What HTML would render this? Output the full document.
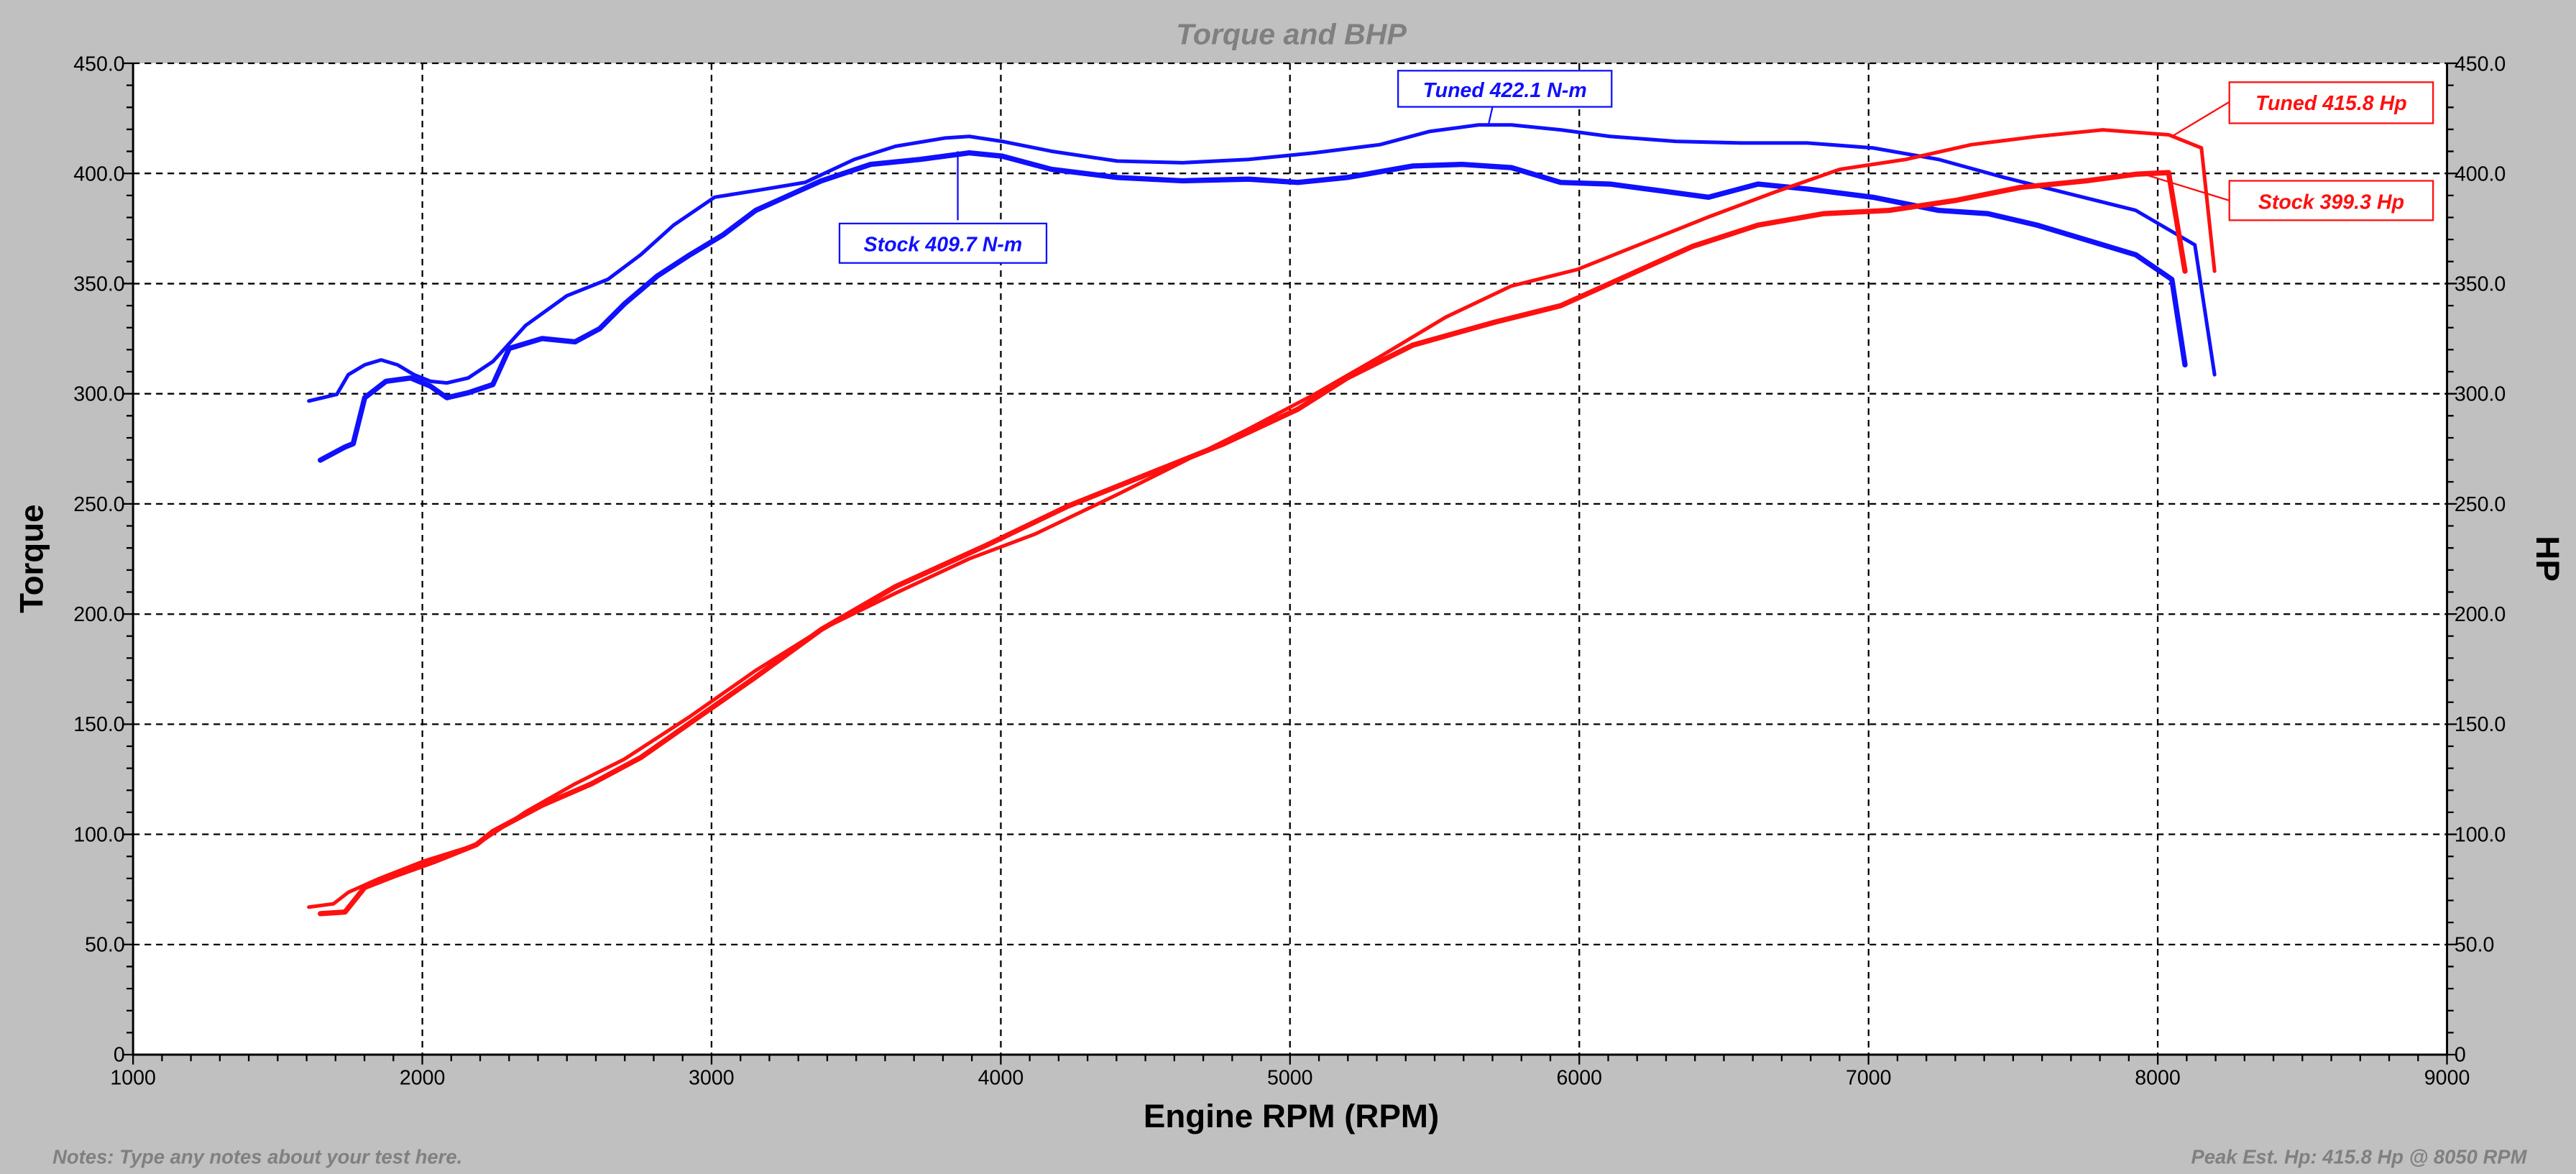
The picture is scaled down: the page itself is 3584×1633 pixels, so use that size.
<!DOCTYPE html>
<html><head><style>html,body{margin:0;padding:0;background:#c0c0c0}svg{display:block}</style></head><body>
<svg width="3584" height="1633" viewBox="0 0 1568 714.4" xmlns="http://www.w3.org/2000/svg" font-family="Liberation Sans, Arial, sans-serif">
<rect width="1568" height="714.4" fill="#c0c0c0"/>
<rect x="81" y="38.5" width="1408.5" height="603.3" fill="#fff"/>
<g stroke="#000" stroke-width="1" stroke-dasharray="4,3" fill="none">
<path d="M81 38.5H1489.5M81 105.5H1489.5M81 172.6H1489.5M81 239.6H1489.5M81 306.6H1489.5M81 373.7H1489.5M81 440.7H1489.5M81 507.7H1489.5M81 574.8H1489.5"/>
<path d="M257.1 38.5V641.8M433.1 38.5V641.8M609.2 38.5V641.8M785.2 38.5V641.8M961.3 38.5V641.8M1137.4 38.5V641.8M1313.4 38.5V641.8"/>
</g>
<g stroke="#000" stroke-width="1.3" fill="none">
<path d="M81 38.5V641.8H1489.5V38.5"/>
<path id="ticks" d=""/>
</g>
<g id="tk" stroke="#000" stroke-width="1"></g>
<g font-size="12.5" fill="#000">
<g text-anchor="end">
<text x="76" y="43">450.0</text><text x="76" y="110">400.0</text><text x="76" y="177">350.0</text><text x="76" y="244">300.0</text><text x="76" y="311">250.0</text><text x="76" y="378">200.0</text><text x="76" y="445">150.0</text><text x="76" y="512">100.0</text><text x="76" y="579">50.0</text><text x="76" y="646">0</text>
</g>
<g text-anchor="start">
<text x="1494" y="43">450.0</text><text x="1494" y="110">400.0</text><text x="1494" y="177">350.0</text><text x="1494" y="244">300.0</text><text x="1494" y="311">250.0</text><text x="1494" y="378">200.0</text><text x="1494" y="445">150.0</text><text x="1494" y="512">100.0</text><text x="1494" y="579">50.0</text><text x="1494" y="646">0</text>
</g>
<g text-anchor="middle">
<text x="81" y="660">1000</text><text x="257.1" y="660">2000</text><text x="433.1" y="660">3000</text><text x="609.2" y="660">4000</text><text x="785.2" y="660">5000</text><text x="961.3" y="660">6000</text><text x="1137.4" y="660">7000</text><text x="1313.4" y="660">8000</text><text x="1489.5" y="660">9000</text>
</g>
</g>
<text x="786" y="27" text-anchor="middle" font-size="18" font-weight="bold" font-style="italic" fill="#808080">Torque and BHP</text>
<text x="786" y="686" text-anchor="middle" font-size="20" font-weight="bold" fill="#000">Engine RPM (RPM)</text>
<text transform="translate(26,340) rotate(-90)" text-anchor="middle" font-size="20" font-weight="bold">Torque</text>
<text transform="translate(1544,340) rotate(90)" text-anchor="middle" font-size="20" font-weight="bold">HP</text>
<text x="32" y="708" font-size="12" font-weight="bold" font-style="italic" fill="#808080">Notes: Type any notes about your test here.</text>
<text x="1538" y="708" text-anchor="end" font-size="12" font-weight="bold" font-style="italic" fill="#808080">Peak Est. Hp: 415.8 Hp @ 8050 RPM</text>
<g fill="none" stroke-linejoin="round" stroke-linecap="round">
<polyline stroke="#1010ff" stroke-width="2.2" points="188,244 205,240 212,228 222,222 232,219 242,222 252,228 262,232 272,233 285,230 300,220 320,198 345,180 370,170 390,155 410,137 435,120 460,116 490,111 520,97 545,89 575,84 590,83 610,86 640,92 680,98 720,99 760,97 800,93 840,88 870,80 900,76 920,76 950,79 980,83 1020,86 1060,87 1100,87 1140,90 1180,97 1220,108 1260,118 1300,128 1336,149 1348,228"/>
<polyline stroke="#1010ff" stroke-width="3.2" points="195,280 210,272 215,270 222,242 235,232 250,230 262,235 272,242 285,239 300,234 310,212 330,206 350,208 365,200 380,185 400,168 420,155 440,143 460,128 480,119 500,110 530,100 560,97 590,93 610,95 640,103 680,108 720,110 760,109 790,111 820,108 860,101 890,100 920,102 950,111 980,112 1010,116 1040,120 1070,112 1100,115 1140,120 1180,128 1210,130 1240,137 1270,146 1300,155 1322,170 1330,222"/>
<polyline stroke="#ff1010" stroke-width="2.2" points="188,552 203,550 212,543 230,535 258,524 290,514 320,494 350,477 380,462 420,436 460,408 500,383 545,361 590,340 630,325 680,301 720,281 760,261 800,240 840,217 880,193 920,174 960,164 1000,148 1040,132 1080,117 1120,103 1160,97 1200,88 1240,83 1280,79 1320,82 1340,90 1348,165"/>
<polyline stroke="#ff1010" stroke-width="3.2" points="195,556 210,555 222,540 240,533 265,524 290,514 300,506 330,490 360,477 390,461 420,440 460,412 500,383 545,357 600,332 650,308 700,288 745,270 790,249 820,230 860,210 910,196 950,186 990,168 1030,150 1070,137 1110,130 1150,128 1190,122 1230,114 1270,110 1300,106 1320,105 1330,165"/>
</g>
<g stroke-width="1">
<line x1="911" y1="54" x2="906" y2="76" stroke="#1010ff"/>
<line x1="583" y1="134" x2="583" y2="92" stroke="#1010ff"/>
<line x1="1357" y1="62" x2="1322" y2="83" stroke="#ff1010"/>
<line x1="1357" y1="122" x2="1305" y2="106" stroke="#ff1010"/>
<rect x="851" y="43" width="130" height="22" fill="#fff" stroke="#1010ff"/>
<rect x="511" y="136" width="126" height="24" fill="#fff" stroke="#1010ff"/>
<rect x="1357" y="50" width="124" height="25" fill="#fff" stroke="#ff1010"/>
<rect x="1357" y="110" width="124" height="24" fill="#fff" stroke="#ff1010"/>
</g>
<g font-size="12.5" font-weight="bold" font-style="italic" text-anchor="middle">
<text x="916" y="59" fill="#1010ff">Tuned 422.1 N-m</text>
<text x="574" y="153" fill="#1010ff">Stock 409.7 N-m</text>
<text x="1419" y="67" fill="#ff1010">Tuned  415.8 Hp</text>
<text x="1419" y="127" fill="#ff1010">Stock 399.3 Hp</text>
</g>
<script>
(function(){var g=document.getElementById('tk'),d='';
for(var i=0;i<=80;i++){var x=81+i*17.606;var L=(i%10==0)?6:4;d+='M'+x.toFixed(2)+' 641.8v'+L;}
for(var j=0;j<=45;j++){var y=641.8-j*13.407;var L=(j%5==0)?6:4;d+='M81 '+y.toFixed(2)+'h-'+L+'M1489.5 '+y.toFixed(2)+'h'+L;}
var p=document.createElementNS('http://www.w3.org/2000/svg','path');p.setAttribute('d',d);g.appendChild(p);})();
</script>
</svg>
</body></html>
